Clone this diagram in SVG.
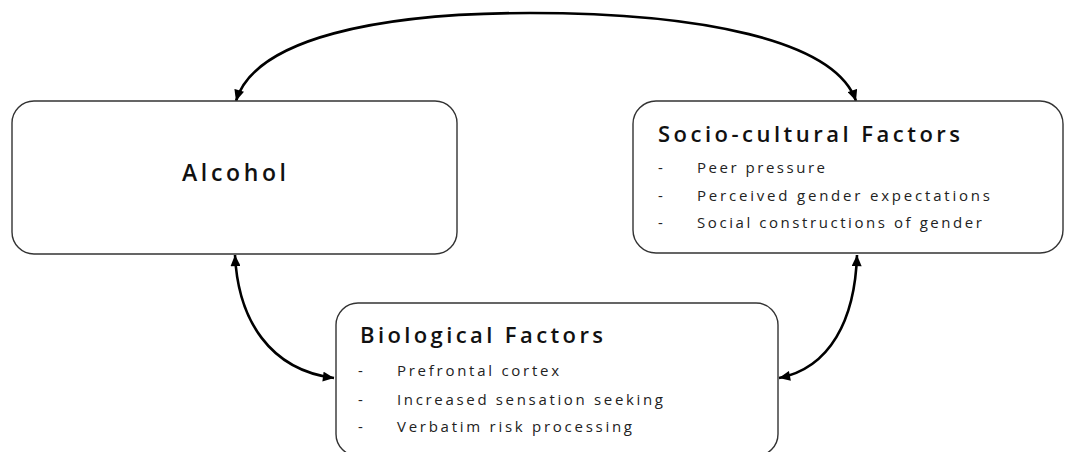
<svg xmlns="http://www.w3.org/2000/svg" width="1065" height="452" viewBox="0 0 1065 452">
<defs>
<style>
.box{fill:#fff;stroke:#333;stroke-width:1.4}
.conn{fill:none;stroke:#000;stroke-width:2.6;marker-start:url(#ah);marker-end:url(#ah)}
.title{font-family:"Open Sans",Lato,sans-serif;font-weight:600;font-size:22px;fill:#111}
.main{font-family:"Open Sans",Lato,sans-serif;font-weight:600;font-size:23px;fill:#111}
.item{font-family:"Open Sans",Lato,sans-serif;font-size:15px;fill:#222}
</style>
<marker id="ah" viewBox="0 0 10 9" refX="10" refY="4.5" markerWidth="12" markerHeight="10" markerUnits="userSpaceOnUse" orient="auto-start-reverse">
<path d="M0,0 L10,4.5 L0,9 z" fill="#000"/>
</marker>
</defs>
<rect width="1065" height="452" fill="#fff"/>
<g id="connectors">
<path class="conn" d="M236,101 C255,38 380,13 530,13 C700,13 835,40 856,101"/>
<path class="conn" d="M235,255 C238,320 270,370 334,378"/>
<path class="conn" d="M857,255 C855,320 830,368 779,378"/>
</g>
<g id="alcohol">
<rect class="box" x="12" y="101" width="445" height="153" rx="22"/>
<text class="main" x="182" y="181" textLength="104" lengthAdjust="spacing">Alcohol</text>
</g>
<g id="socio">
<rect class="box" x="633" y="101" width="430" height="152" rx="23"/>
<text class="title" x="658" y="142" textLength="302" lengthAdjust="spacing">Socio-cultural Factors</text>
<text class="item" x="658" y="173">-</text>
<text class="item" x="697" y="173" textLength="128" lengthAdjust="spacing">Peer pressure</text>
<text class="item" x="658" y="201">-</text>
<text class="item" x="697" y="201" textLength="293" lengthAdjust="spacing">Perceived gender expectations</text>
<text class="item" x="658" y="228">-</text>
<text class="item" x="697" y="228" textLength="285" lengthAdjust="spacing">Social constructions of gender</text>
</g>
<g id="biological">
<rect class="box" x="336" y="303" width="442" height="153" rx="22"/>
<text class="title" x="360" y="343" textLength="243" lengthAdjust="spacing">Biological Factors</text>
<text class="item" x="358" y="376">-</text>
<text class="item" x="397" y="376" textLength="162" lengthAdjust="spacing">Prefrontal cortex</text>
<text class="item" x="358" y="405">-</text>
<text class="item" x="397" y="405" textLength="266" lengthAdjust="spacing">Increased sensation seeking</text>
<text class="item" x="358" y="432">-</text>
<text class="item" x="397" y="432" textLength="235" lengthAdjust="spacing">Verbatim risk processing</text>
</g>
</svg>
